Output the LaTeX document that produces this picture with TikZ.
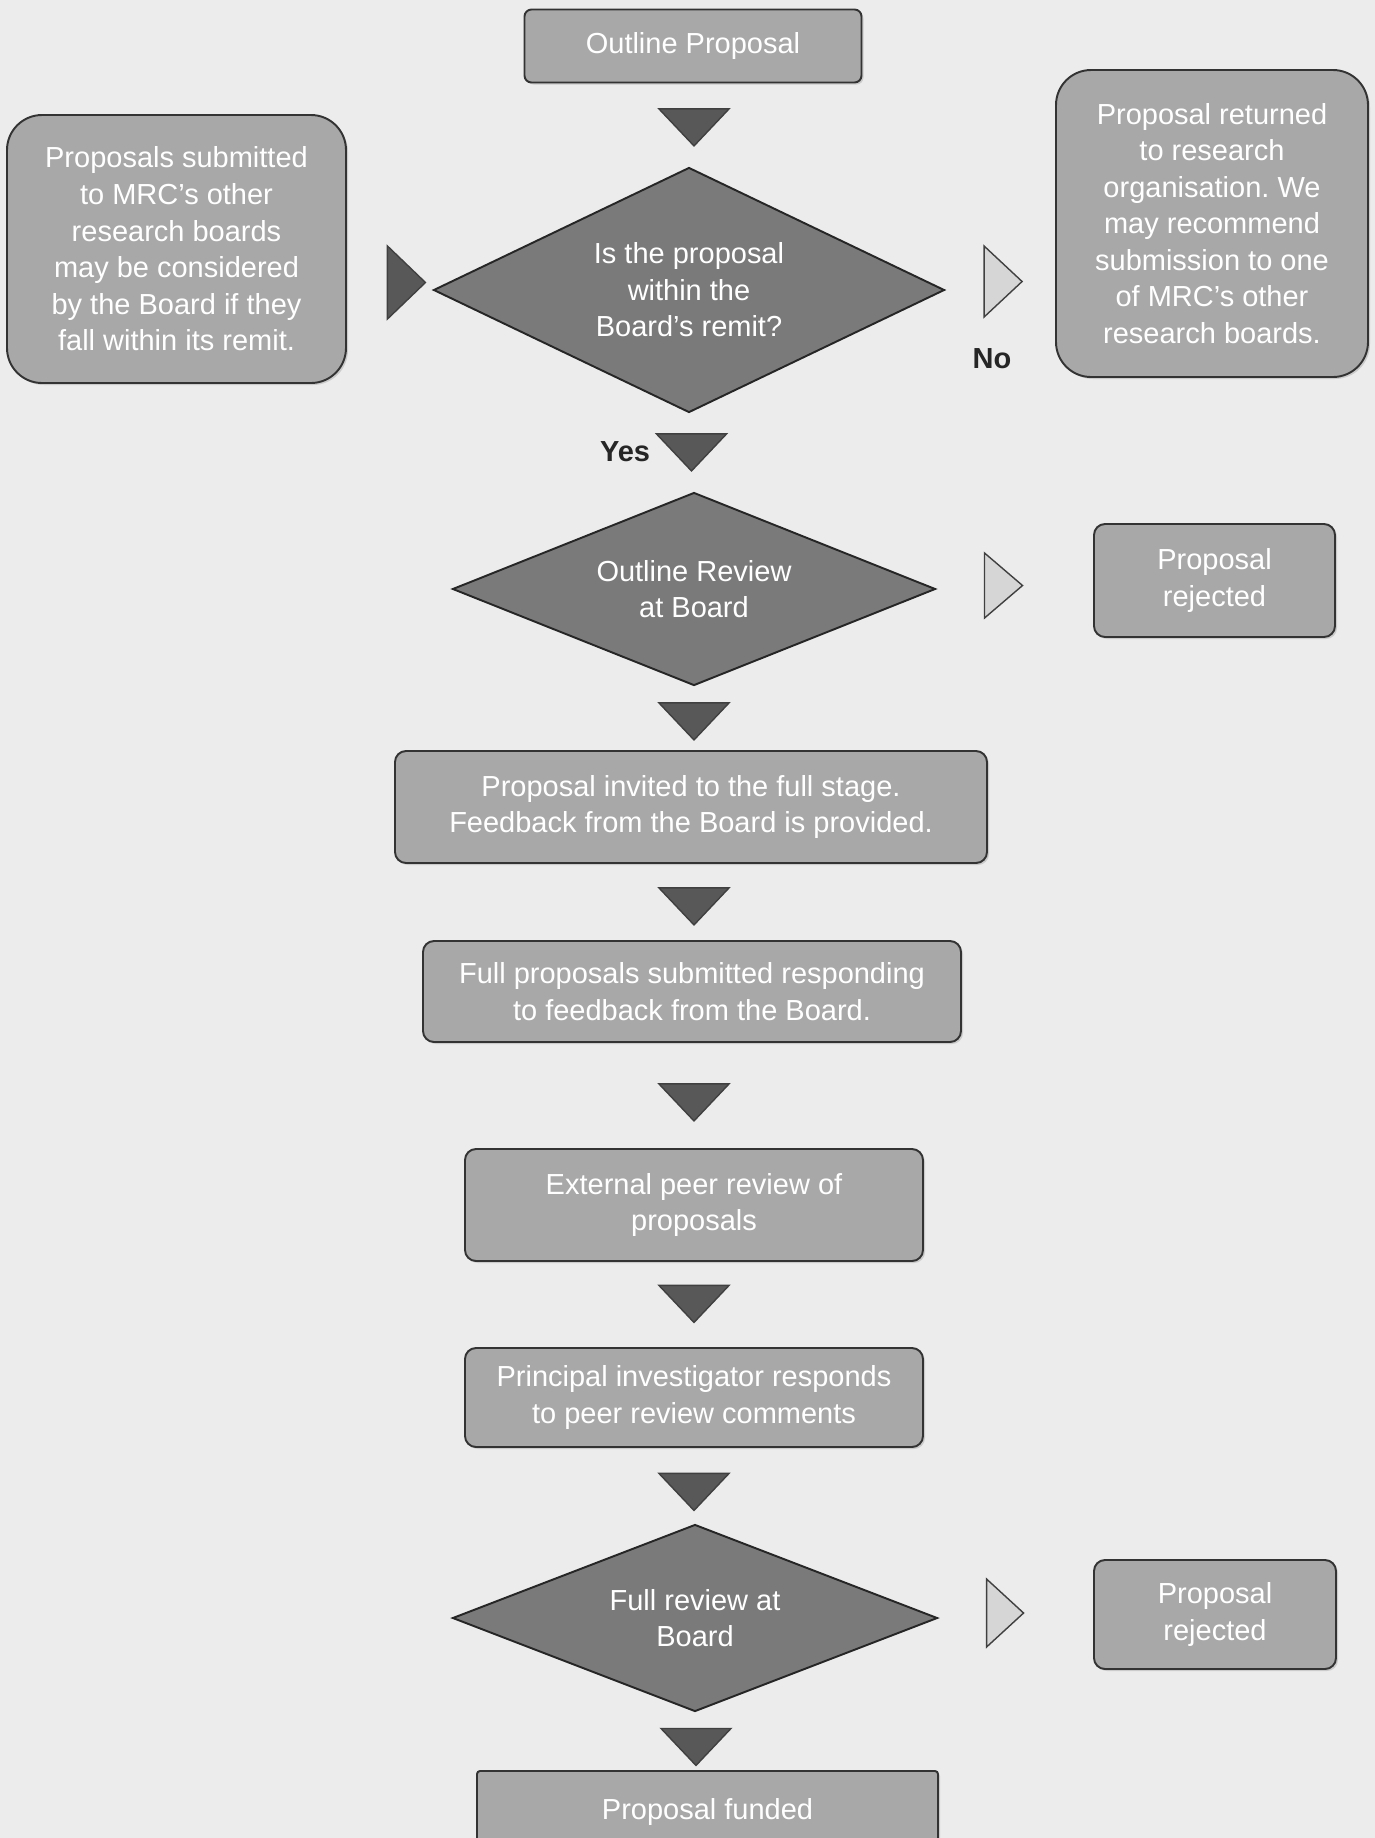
\documentclass[tikz,border=0pt]{standalone}
\usepackage{fontspec}
\setmainfont{Liberation Sans}
\usepackage{xcolor}
\usepackage{tikz}
\usetikzlibrary{shapes.geometric, shadows, positioning}
\frenchspacing

\definecolor{paper}{RGB}{236,236,236}
\definecolor{boxgray}{RGB}{168,168,168}
\definecolor{diagray}{RGB}{122,122,122}
\definecolor{tridark}{RGB}{88,88,88}
\definecolor{trilight}{RGB}{214,214,214}

\begin{document}
\begin{tikzpicture}[
stagenode/.style={rectangle, rounded corners=0.18cm, draw=black!80, fill=boxgray, line width=1.1pt, text=white, align=center, inner sep=0pt, font=\fontsize{16.5}{20.8}\selectfont, drop shadow={opacity=0.3, shadow xshift=0.04cm, shadow yshift=-0.04cm}},
decisionnode/.style={diamond, aspect=2, draw=black!85, fill=diagray, line width=1.1pt, text=white, align=center, inner sep=0pt, font=\fontsize{16.5}{20.8}\selectfont},
downtri/.style={isosceles triangle, isosceles triangle stretches, shape border rotate=-90, inner sep=0pt, draw=black!75, line width=0.8pt, fill=tridark, minimum width=1.4cm, minimum height=0.74cm},
righttri/.style={isosceles triangle, isosceles triangle stretches, shape border rotate=0, inner sep=0pt, draw=black!75, line width=0.8pt, fill=trilight, minimum width=1.4cm, minimum height=0.76cm},
labelnode/.style={font=\fontsize{16.5}{20}\selectfont\bfseries, text=black!85, inner sep=0pt},
]
\clip (0,0) rectangle (27.5,-36.76);
\fill[paper] (0,0) rectangle (27.5,-36.76);

%Nodes
\node[stagenode, minimum width=6.74cm, minimum height=1.46cm, rounded corners=0.14cm] (outline)	at (13.86,-0.92)	{Outline Proposal};
\node[decisionnode, minimum width=10.22cm, minimum height=4.9cm] (remit)	at (13.78,-5.8)	{Is the proposal\\within the\\Board’s remit?};
\node[stagenode, minimum width=6.78cm, minimum height=5.36cm, rounded corners=0.7cm] (other_boards)	at (3.53,-4.98)	{Proposals submitted\\to MRC’s other\\research boards\\may be considered\\by the Board if they\\fall within its remit.};
\node[stagenode, minimum width=6.24cm, minimum height=6.14cm, rounded corners=0.7cm] (returned)	at (24.24,-4.47)	{Proposal returned\\to research\\organisation. We\\may recommend\\submission to one\\of MRC’s other\\research boards.};
\node[decisionnode, minimum width=9.66cm, minimum height=3.86cm] (outline_review)	at (13.88,-11.78)	{Outline Review\\at Board};
\node[stagenode, minimum width=4.82cm, minimum height=2.26cm, rounded corners=0.22cm] (rejected_outline)	at (24.29,-11.61)	{Proposal\\rejected};
\node[stagenode, minimum width=11.84cm, minimum height=2.24cm, rounded corners=0.22cm] (invited)	at (13.82,-16.14)	{Proposal invited to the full stage.\\Feedback from the Board is provided.};
\node[stagenode, minimum width=10.76cm, minimum height=2.02cm, rounded corners=0.22cm] (full_submitted)	at (13.84,-19.83)	{Full proposals submitted responding\\to feedback from the Board.};
\node[stagenode, minimum width=9.16cm, minimum height=2.24cm, rounded corners=0.22cm] (peer_review)	at (13.88,-24.1)	{External peer review of\\proposals};
\node[stagenode, minimum width=9.16cm, minimum height=1.98cm, rounded corners=0.22cm] (pi_response)	at (13.88,-27.95)	{Principal investigator responds\\to peer review comments};
\node[decisionnode, minimum width=9.7cm, minimum height=3.74cm] (full_review)	at (13.9,-32.36)	{Full review at\\Board};
\node[stagenode, minimum width=4.84cm, minimum height=2.18cm, rounded corners=0.22cm] (rejected_full)	at (24.3,-32.29)	{Proposal\\rejected};
\node[stagenode, minimum width=9.22cm, minimum height=2cm, rounded corners=0.06cm] (funded)	at (14.15,-36.42)	{\raisebox{0.5cm}{Proposal funded}};

%Arrows
\node[downtri] (to_remit)	at (13.88,-2.48)	{};
\node[downtri] (to_review)	at (13.83,-8.98)	{};
\node[downtri] (to_invited)	at (13.88,-14.36)	{};
\node[downtri] (to_full)	at (13.88,-18.06)	{};
\node[downtri] (to_peer)	at (13.88,-21.98)	{};
\node[downtri] (to_pi)	at (13.88,-26.01)	{};
\node[downtri] (to_full_review)	at (13.88,-29.77)	{};
\node[downtri] (to_funded)	at (13.92,-34.87)	{};
\node[righttri, fill=tridark, minimum width=1.46cm] (from_other)	at (8.06,-5.65)	{};
\node[righttri, minimum width=1.42cm] (to_returned)	at (19.99,-5.63)	{};
\node[righttri, minimum width=1.3cm] (to_rejected_outline)	at (19.99,-11.71)	{};
\node[righttri, minimum width=1.36cm, minimum height=0.74cm] (to_rejected_full)	at (20.03,-32.26)	{};

%Labels
\node[labelnode] (yes)	at (12.5,-9.04)	{Yes};
\node[labelnode] (no)	at (19.84,-7.18)	{No};

\end{tikzpicture}
\end{document}
